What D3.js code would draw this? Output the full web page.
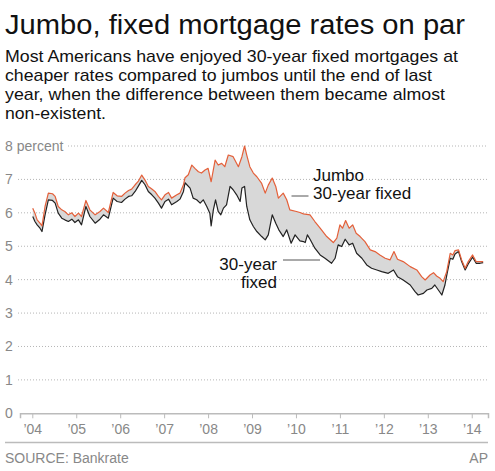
<!DOCTYPE html>
<html><head><meta charset="utf-8">
<script src="https://cdn.jsdelivr.net/npm/d3@7/dist/d3.min.js"></script>
<style>
body{margin:0;background:#fff;}
svg{display:block;font-family:"Liberation Sans",Arial,Helvetica,sans-serif;}
</style></head>
<body><svg id="c" width="495" height="471"></svg>
<script>
// ---- data (decimal years, percent) ----
const jumboYears = [2004.01,2004.06,2004.11,2004.175,2004.22,2004.29,2004.365,2004.46,2004.52,2004.59,
  2004.67,2004.74,2004.82,2004.90,2004.97,2005.05,2005.12,2005.22,2005.31,2005.43,
  2005.54,2005.62,2005.73,2005.84,2005.93,2006.03,2006.11,2006.19,2006.26,2006.34,
  2006.41,2006.49,2006.565,2006.64,2006.72,2006.79,2006.87,2006.94,2007.02,2007.10,
  2007.17,2007.29,2007.36,2007.44,2007.475,2007.55,2007.63,2007.70,2007.78,2007.85,
  2007.93,2008.00,2008.07,2008.16,2008.23,2008.31,2008.38,2008.46,2008.57,2008.69,
  2008.77,2008.83,2008.88,2008.95,2009.03,2009.11,2009.22,2009.30,2009.37,2009.46,
  2009.54,2009.60,2009.71,2009.79,2009.86,2010.01,2010.09,2010.17,2010.32,2010.43,
  2010.55,2010.70,2010.85,2010.93,2011.00,2011.06,2011.13,2011.21,2011.29,2011.37,
  2011.46,2011.57,2011.69,2011.80,2011.91,2012.03,2012.14,2012.23,2012.31,2012.44,
  2012.60,2012.75,2012.86,2012.94,2013.05,2013.13,2013.20,2013.28,2013.35,2013.43,
  2013.51,2013.57,2013.62,2013.70,2013.77,2013.85,2013.92,2014.02,2014.10,2014.19,
  2014.26];
const jumboRates = [6.14,5.99,5.79,5.69,5.61,6.19,6.59,6.57,6.49,6.19,
  6.09,6.04,5.94,6.00,5.89,5.99,5.89,6.37,6.09,5.94,
  6.04,6.14,6.01,6.61,6.51,6.49,6.59,6.67,6.71,6.84,
  6.94,7.13,6.98,6.79,6.71,6.64,6.49,6.39,6.54,6.61,
  6.44,6.54,6.59,6.84,7.05,7.14,7.43,7.33,7.23,7.19,
  7.28,7.33,6.93,7.58,7.43,7.48,7.38,7.73,7.68,7.38,
  7.68,8.00,7.73,7.38,7.19,7.08,6.88,6.59,6.83,7.04,
  6.79,6.44,6.59,6.39,6.09,6.04,6.01,5.97,5.94,5.74,
  5.54,5.29,5.11,5.24,5.64,5.54,5.77,5.54,5.64,5.39,
  5.29,5.14,4.89,4.84,4.74,4.64,4.59,4.84,4.61,4.54,
  4.39,4.29,4.09,3.99,4.14,4.21,4.11,4.04,3.94,4.24,
  4.79,4.74,4.87,4.89,4.59,4.34,4.54,4.74,4.54,4.54,
  4.54];
const fixedYears = [2004.01,2004.06,2004.11,2004.175,2004.22,2004.29,2004.365,2004.46,2004.52,2004.59,
  2004.67,2004.74,2004.82,2004.90,2004.97,2005.05,2005.12,2005.22,2005.31,2005.43,
  2005.54,2005.62,2005.73,2005.84,2005.93,2006.03,2006.11,2006.19,2006.26,2006.34,
  2006.41,2006.49,2006.565,2006.64,2006.72,2006.79,2006.87,2006.94,2007.02,2007.10,
  2007.17,2007.29,2007.36,2007.44,2007.475,2007.59,2007.66,2007.74,2007.82,2007.89,
  2007.97,2008.04,2008.07,2008.12,2008.17,2008.23,2008.29,2008.35,2008.42,2008.50,
  2008.57,2008.65,2008.73,2008.77,2008.83,2008.88,2008.95,2009.03,2009.11,2009.22,
  2009.30,2009.37,2009.46,2009.54,2009.61,2009.71,2009.79,2009.89,2009.98,2010.09,
  2010.17,2010.21,2010.26,2010.32,2010.43,2010.55,2010.66,2010.81,2010.89,2010.96,
  2011.04,2011.12,2011.21,2011.29,2011.38,2011.50,2011.61,2011.72,2011.84,2011.95,
  2012.10,2012.22,2012.31,2012.44,2012.60,2012.71,2012.78,2012.90,2012.98,2013.09,
  2013.16,2013.24,2013.32,2013.39,2013.44,2013.51,2013.57,2013.62,2013.70,2013.77,
  2013.85,2013.92,2014.02,2014.10,2014.19,2014.26];
const fixedRates = [5.89,5.74,5.64,5.54,5.44,5.94,6.39,6.37,6.29,5.99,
  5.84,5.79,5.74,5.81,5.71,5.79,5.64,6.19,5.89,5.69,
  5.81,5.94,5.84,6.44,6.34,6.31,6.41,6.49,6.51,6.64,
  6.79,6.97,6.84,6.64,6.54,6.44,6.29,6.14,6.34,6.41,
  6.24,6.34,6.41,6.64,6.90,6.74,6.44,6.39,6.29,6.39,
  6.19,5.99,5.61,6.09,6.39,6.04,5.94,6.14,6.24,6.79,
  6.69,6.54,6.34,6.74,6.79,6.19,5.79,5.59,5.44,5.29,
  5.19,5.34,5.94,5.69,5.49,5.29,5.49,5.09,5.34,5.16,
  5.14,5.11,5.34,5.21,4.94,4.74,4.64,4.49,4.64,5.04,
  4.99,5.21,5.04,5.09,4.79,4.64,4.44,4.34,4.29,4.24,
  4.19,4.29,4.09,3.99,3.84,3.64,3.54,3.59,3.69,3.74,
  3.84,3.69,3.54,3.84,4.19,4.64,4.61,4.77,4.84,4.54,
  4.29,4.47,4.67,4.49,4.49,4.51];
const yTicks = [0,1,2,3,4,5,6,7,8];
const yearTicks = [2004,2005,2006,2007,2008,2009,2010,2011,2012,2013,2014];
const yearLabels = ["’04","’05","’06","’07","’08","’09","’10","’11","’12","’13","’14"];
const title = "Jumbo, fixed mortgage rates on par";
const subtitleLines = ["Most Americans have enjoyed 30-year fixed mortgages at","cheaper rates compared to jumbos until the end of last","year, when the difference between them became almost","non-existent."];
const source = "SOURCE: Bankrate";
const credit = "AP";

// ---- layout ----
const svg = d3.select("#c");
const x = d3.scaleLinear().domain([2003.72, 2014.37]).range([20, 488]);
const y = d3.scaleLinear().domain([0, 8]).range([413.3, 146]);

// title
svg.append("text").attr("x", 5).attr("y", 34).attr("font-size", 27).attr("fill", "#111")
  .attr("textLength", 460).attr("lengthAdjust", "spacingAndGlyphs").text(title);
const subW = [453, 427, 440, 101];
subtitleLines.forEach((l, i) => {
  svg.append("text").attr("x", 5).attr("y", 62 + i * 19).attr("font-size", 17).attr("fill", "#111")
    .attr("textLength", subW[i]).attr("lengthAdjust", "spacingAndGlyphs").text(l);
});

// gridlines
svg.append("g").selectAll("line").data(yTicks.filter(d => d > 0)).join("line")
  .attr("x1", d => d === 8 ? 68 : 18).attr("x2", 488)
  .attr("y1", d => y(d)).attr("y2", d => y(d))
  .attr("stroke", "#b5b5b5").attr("stroke-width", 1).attr("stroke-dasharray", "1,2");

// y labels
svg.append("g").selectAll("text").data(yTicks).join("text")
  .attr("x", 5).attr("y", d => y(d) + 5).attr("font-size", 14).attr("fill", "#888")
  .text(d => d === 8 ? "8 percent" : d);

// area between the two series
const jumboPts = jumboYears.map((t, i) => [t, jumboRates[i]]);
const fixedPts = fixedYears.map((t, i) => [t, fixedRates[i]]);
const line = d3.line().x(d => x(d[0])).y(d => y(d[1]));
svg.append("path").attr("d", line(jumboPts.concat(fixedPts.slice().reverse())) + "Z")
  .attr("fill", "#d8d8d8").attr("stroke", "none");

// lines
svg.append("path").attr("d", line(fixedPts))
  .attr("fill", "none").attr("stroke", "#222").attr("stroke-width", 1.2).attr("stroke-linejoin", "round");
svg.append("path").attr("d", line(jumboPts))
  .attr("fill", "none").attr("stroke", "#e4603a").attr("stroke-width", 1.2).attr("stroke-linejoin", "round");

// x axis
const xAxis = d3.axisBottom(x).tickValues(yearTicks).tickSize(5).tickFormat((d, i) => yearLabels[i]);
const gx = svg.append("g").attr("transform", `translate(0,${y(0)})`).call(xAxis);
gx.select(".domain").attr("stroke", "#bbb").attr("stroke-width", 1.5);
gx.selectAll(".tick line").attr("stroke", "#bbb");
gx.selectAll(".tick text").attr("font-size", 14).attr("fill", "#888").attr("font-family", "Liberation Sans, Arial, sans-serif").attr("dy", "0.9em");

// annotations
svg.append("text").attr("x", 313).attr("y", 181).attr("font-size", 17).attr("fill", "#111").text("Jumbo");
svg.append("text").attr("x", 313).attr("y", 198.5).attr("font-size", 17).attr("fill", "#111").text("30-year fixed");
svg.append("line").attr("x1", 291.5).attr("x2", 308.5).attr("y1", 196).attr("y2", 196).attr("stroke", "#555").attr("stroke-width", 1);
svg.append("text").attr("x", 277).attr("y", 270).attr("text-anchor", "end").attr("font-size", 17).attr("fill", "#111").text("30-year");
svg.append("text").attr("x", 277).attr("y", 288).attr("text-anchor", "end").attr("font-size", 17).attr("fill", "#111").text("fixed");
svg.append("line").attr("x1", 283).attr("x2", 320).attr("y1", 260).attr("y2", 260).attr("stroke", "#555").attr("stroke-width", 1);

// footer
svg.append("line").attr("x1", 5).attr("x2", 488).attr("y1", 442.5).attr("y2", 442.5).attr("stroke", "#bbb").attr("stroke-width", 1.5);
svg.append("text").attr("x", 5).attr("y", 463).attr("font-size", 14).attr("fill", "#888").text(source);
svg.append("text").attr("x", 488).attr("y", 463).attr("text-anchor", "end").attr("font-size", 14).attr("fill", "#888").text(credit);
</script></body></html>
